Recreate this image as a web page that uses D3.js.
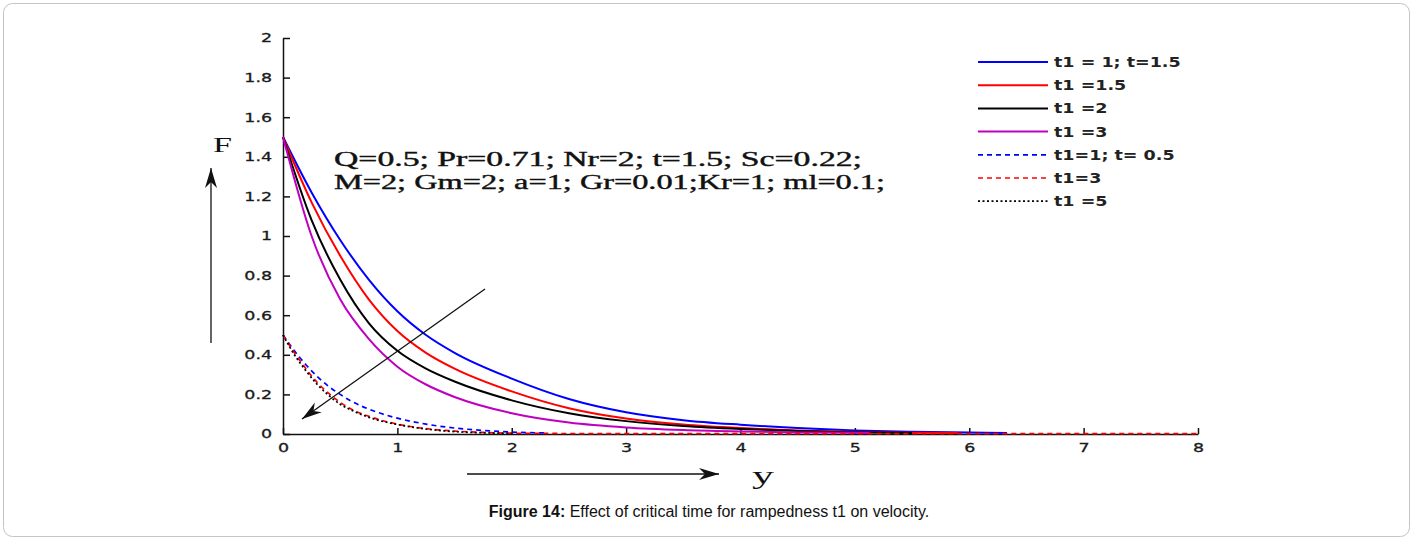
<!DOCTYPE html>
<html>
<head>
<meta charset="utf-8">
<script src="https://cdn.jsdelivr.net/npm/d3@7"></script>
<style>
  body { margin: 0; background: #fff; }
  svg { display: block; }
</style>
</head>
<body>
<script>
// velocity profiles F(y)
var blueX = [0, 0.25, 0.5, 0.75, 1, 1.25, 1.5, 2, 2.5, 3, 3.5, 4, 4.5, 5, 5.5, 6, 6.33];
var blueF = [1.5, 1.22, 0.98, 0.78, 0.62, 0.5, 0.41, 0.28, 0.177, 0.11, 0.07, 0.047, 0.03, 0.018, 0.011, 0.007, 0.005];
var redX = [0, 0.25, 0.5, 0.75, 1, 1.25, 1.5, 2, 2.5, 3, 3.5, 4, 4.5, 5, 5.5, 5.9];
var redF = [1.5, 1.17, 0.9, 0.68, 0.52, 0.41, 0.33, 0.215, 0.13, 0.078, 0.048, 0.03, 0.018, 0.01, 0.006, 0.005];
var blackX = [0, 0.25, 0.5, 0.75, 1, 1.25, 1.5, 2, 2.5, 3, 3.5, 4, 4.5, 5, 5.5];
var blackF = [1.5, 1.08, 0.78, 0.56, 0.42, 0.33, 0.265, 0.17, 0.105, 0.065, 0.04, 0.025, 0.015, 0.009, 0.005];
var magX = [0, 0.25, 0.5, 0.75, 1, 1.25, 1.5, 2, 2.5, 3, 3.5, 4, 4.5, 5, 5.13];
var magF = [1.5, 1.0, 0.68, 0.48, 0.34, 0.25, 0.187, 0.105, 0.058, 0.033, 0.02, 0.013, 0.008, 0.006, 0.005];

var dashX = [0, 0.1, 0.2, 0.3, 0.4, 0.5, 0.6, 0.8, 1, 1.25, 1.5, 1.75, 2, 2.3];
var blueDashF = [0.5, 0.42, 0.35, 0.29, 0.24, 0.2, 0.165, 0.115, 0.08, 0.05, 0.03, 0.018, 0.01, 0.005];
var redDashX = [0, 0.1, 0.2, 0.3, 0.4, 0.5, 0.6, 0.8, 1, 1.25, 1.5, 1.75, 2, 3, 4, 5, 6, 7, 8];
var redDashF = [0.5, 0.41, 0.33, 0.26, 0.205, 0.16, 0.125, 0.08, 0.05, 0.027, 0.015, 0.008, 0.004, 0.002, 0.002, 0.002, 0.002, 0.002, 0.002];
var blackDotX = [0, 0.1, 0.2, 0.3, 0.4, 0.5, 0.6, 0.8, 1, 1.25, 1.5, 1.75, 2];
var blackDotF = [0.5, 0.4, 0.32, 0.25, 0.195, 0.15, 0.12, 0.075, 0.048, 0.025, 0.012, 0.006, 0.003];

var legendLabels = ["t1 = 1; t=1.5", "t1 =1.5", "t1 =2", "t1 =3", "t1=1; t= 0.5", "t1=3", "t1 =5"];
var xTicks = [0, 1, 2, 3, 4, 5, 6, 7, 8];
var yTicks = [0, 0.2, 0.4, 0.6, 0.8, 1, 1.2, 1.4, 1.6, 1.8, 2];
var paramLines = ["Q=0.5; Pr=0.71; Nr=2; t=1.5;  Sc=0.22;", "M=2;  Gm=2; a=1; Gr=0.01;Kr=1; ml=0.1;"];

var series = [
    {xs: blueX, fs: blueF, color: "#0000ff", dash: null, w: 2},
    {xs: redX, fs: redF, color: "#ff0000", dash: null, w: 2},
    {xs: blackX, fs: blackF, color: "#000000", dash: null, w: 2},
    {xs: magX, fs: magF, color: "#bf00bf", dash: null, w: 2},
    {xs: dashX, fs: blueDashF, color: "#0000ff", dash: "5,4", w: 1.7},
    {xs: redDashX, fs: redDashF, color: "#ff0000", dash: "5,4", w: 1.7},
    {xs: blackDotX, fs: blackDotF, color: "#000000", dash: "2,2.5", w: 1.7}
];

var W = 1413, H = 540;
var svg = d3.select("body").append("svg")
    .attr("width", W)
    .attr("height", H);

// card border
svg.append("rect")
    .attr("x", 3.5).attr("y", 3.5)
    .attr("width", W - 7).attr("height", H - 7)
    .attr("rx", 9)
    .attr("fill", "#fff")
    .attr("stroke", "#c4c4c4");

var x = d3.scaleLinear().domain([0, 8]).range([283, 1198]);
var y = d3.scaleLinear().domain([0, 2]).range([434, 38]);

// stretch text horizontally like the original bitmap font
function stretch(sel, k) {
    sel.each(function () {
        var w = this.getComputedTextLength();
        d3.select(this).attr("textLength", w * k).attr("lengthAdjust", "spacingAndGlyphs");
    });
}

var xAxis = svg.append("g")
    .attr("transform", "translate(0,434)")
    .call(d3.axisBottom(x).tickValues(xTicks).tickFormat(d3.format("d"))
        .tickSizeInner(-6).tickSizeOuter(0).tickPadding(9));
var yAxis = svg.append("g")
    .attr("transform", "translate(283,0)")
    .call(d3.axisLeft(y).tickValues(yTicks).tickFormat(function (d) { return d3.format("")(+d.toFixed(1)); })
        .tickSizeInner(-7).tickSizeOuter(0).tickPadding(11));

[xAxis, yAxis].forEach(function (ax) {
    ax.select(".domain").attr("stroke", "#111").attr("stroke-width", 1.5);
    ax.selectAll(".tick line").attr("stroke", "#111").attr("stroke-width", 1.5);
    ax.selectAll("text")
        .attr("fill", "#1a1a1a")
        .attr("stroke", "#1a1a1a")
        .attr("stroke-width", 0.3)
        .style("font-family", "'DejaVu Sans', sans-serif")
        .style("font-size", "12px");
    stretch(ax.selectAll("text"), 1.45);
});

// curves
var line = d3.line()
    .x(function (d) { return x(d[0]); })
    .y(function (d) { return y(d[1]); })
    .curve(d3.curveMonotoneX);

svg.selectAll(".curve")
    .data(series)
    .enter().append("path")
    .attr("class", "curve")
    .attr("fill", "none")
    .attr("stroke", function (d) { return d.color; })
    .attr("stroke-width", function (d) { return d.w; })
    .attr("stroke-dasharray", function (d) { return d.dash; })
    .attr("d", function (d) {
        return line(d.xs.map(function (v, i) { return [v, d.fs[i]]; }));
    });

// legend
var leg = svg.append("g");
var rows = leg.selectAll("g")
    .data(series)
    .enter().append("g")
    .attr("transform", function (d, i) { return "translate(0," + (62 + i * 23.2) + ")"; });
rows.append("line")
    .attr("x1", 978).attr("x2", 1048)
    .attr("stroke", function (d) { return d.color; })
    .attr("stroke-width", function (d) { return d.w; })
    .attr("stroke-dasharray", function (d) { return d.dash; });
var legText = rows.append("text")
    .attr("x", 1054)
    .attr("dy", "0.36em")
    .style("font-family", "'DejaVu Sans', sans-serif")
    .style("font-size", "14px")
    .style("font-weight", "bold")
    .attr("fill", "#222")
    .text(function (d, i) { return legendLabels[i]; });
stretch(legText, 1.25);

// parameter annotation
svg.selectAll(".param")
    .data(paramLines)
    .enter().append("text")
    .attr("class", "param")
    .attr("x", 334)
    .attr("y", function (d, i) { return 166 + i * 23; })
    .attr("textLength", function (d, i) { return i === 0 ? 528 : 551; })
    .attr("lengthAdjust", "spacingAndGlyphs")
    .style("font-family", "'Liberation Serif', serif")
    .style("font-size", "20px")
    .attr("fill", "#111")
    .attr("stroke", "#111")
    .attr("stroke-width", 0.4)
    .text(function (d) { return d; });

// axis names and arrows
function arrow(x1, y1, x2, y2) {
    svg.append("line")
        .attr("x1", x1).attr("y1", y1).attr("x2", x2).attr("y2", y2)
        .attr("stroke", "#111").attr("stroke-width", 1.3);
    var a = Math.atan2(y2 - y1, x2 - x1);
    var L = 20, hw = 6;
    var bx = x2 - L * Math.cos(a), by = y2 - L * Math.sin(a);
    var mx = x2 - 0.7 * L * Math.cos(a), my = y2 - 0.7 * L * Math.sin(a);
    var px = -Math.sin(a), py = Math.cos(a);
    svg.append("path")
        .attr("d", "M" + x2 + "," + y2 +
            "L" + (bx + px * hw) + "," + (by + py * hw) +
            "L" + mx + "," + my +
            "L" + (bx - px * hw) + "," + (by - py * hw) + "Z")
        .attr("fill", "#111");
}
arrow(211, 343, 211, 168);
arrow(467, 474, 719, 474);
arrow(485, 289, 302, 419);

svg.append("text")
    .attr("x", 213).attr("y", 152)
    .attr("textLength", 19).attr("lengthAdjust", "spacingAndGlyphs")
    .style("font-family", "'Liberation Serif', serif")
    .style("font-size", "21px")
    .attr("fill", "#111")
    .text("F");
svg.append("text")
    .attr("x", 752).attr("y", 484)
    .attr("textLength", 22).attr("lengthAdjust", "spacingAndGlyphs")
    .style("font-family", "'Liberation Serif', serif")
    .style("font-size", "25px")
    .attr("fill", "#111")
    .text("y");

// caption
var cap = svg.append("text")
    .attr("x", 709).attr("y", 517)
    .attr("text-anchor", "middle")
    .style("font-family", "'Liberation Sans', Arial, sans-serif")
    .style("font-size", "16px")
    .attr("fill", "#111");
cap.append("tspan").style("font-weight", "bold").text("Figure 14:");
cap.append("tspan").text(" Effect of critical time for rampedness t1 on velocity.");
</script>
</body>
</html>
